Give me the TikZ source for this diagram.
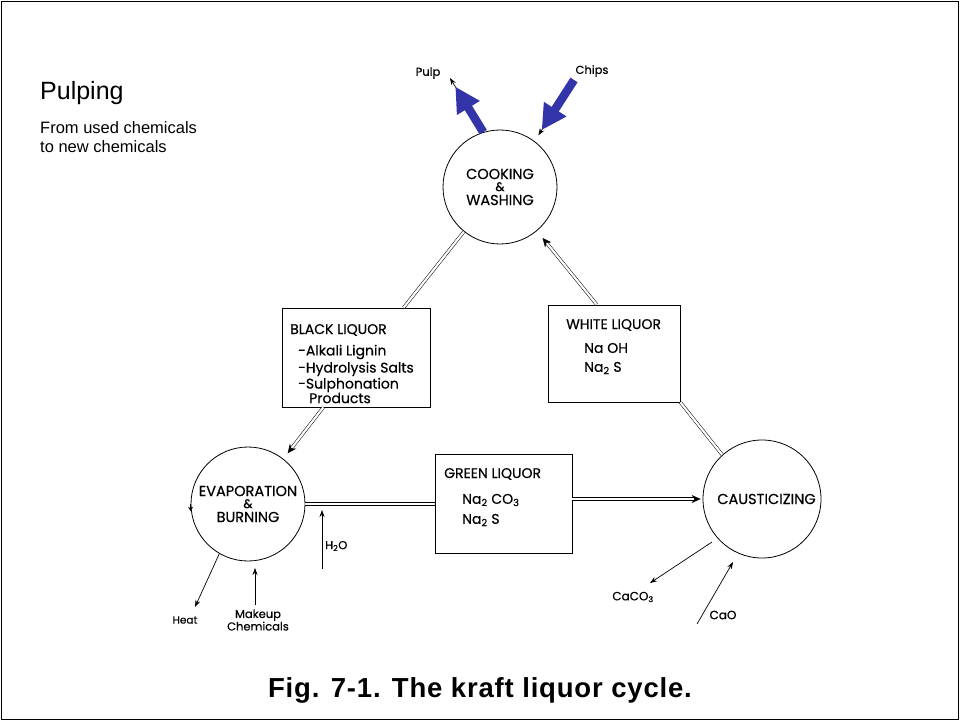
\documentclass[tikz,border=0pt]{standalone}
\usepackage{fontspec}
\setmainfont{Liberation Sans}
\newfontfamily\geo[FakeBold=0.5]{Poppins}
\usetikzlibrary{arrows.meta,calc}
\definecolor{arrowblue}{RGB}{51,51,170}
\begin{document}
\begin{tikzpicture}[x=1pt,y=-1pt,
  proc/.style={circle,draw,line width=0.8pt,minimum size=114pt,inner sep=0pt,align=center,font=\geo\fontsize{14.5}{15}\selectfont},
  liq/.style={draw,line width=0.8pt,inner sep=0pt},
  lbl/.style={inner sep=0pt,anchor=west,font=\geo\fontsize{14}{15}\selectfont},
  small/.style={inner sep=0pt,font=\geo\fontsize{11.5}{12}\selectfont,align=center},
  dbl/.style={double,double distance=2.2pt,line width=0.5pt},
  dblarrow/.style={dbl,-{Stealth[length=9pt,width=8pt]}},
  thinarrow/.style={line width=0.7pt,-{Stealth[length=7pt,width=5pt]}},
  bigblue/.style={arrowblue,line width=8.5pt,-{Triangle[length=25pt,width=25pt]}},
]
\useasboundingbox (0,0) rectangle (960,721);
\draw[line width=1.2pt] (1.5,1.5) rectangle (958.5,719.5);

% titles
\node[anchor=west,inner sep=0pt,font=\fontsize{25}{28}\selectfont] (title) at (40,93) {Pulping};
\node[anchor=north west,inner sep=0pt,align=left,font=\fontsize{16.5}{19.5}\selectfont] (sub) at (40,121) {From used chemicals\\to new chemicals};
\node[inner sep=0pt,font=\bfseries\fontsize{27.5}{32}\selectfont\addfontfeatures{LetterSpace=3}] (caption) at (480,690) {Fig. 7-1. The kraft liquor cycle.};

% process circles
\node[proc] (cook) at (500,187) {COOKING\\[-3pt]{\fontsize{12.5}{12}\selectfont\&}\\[-1pt]WASHING};
\node[proc] (evap) at (248,504) {EVAPORATION\\[-3pt]{\fontsize{12.5}{12}\selectfont\&}\\[-1pt]BURNING};
\node[proc,minimum size=118pt] (caust) at (762,499) {\hspace*{9pt}CAUSTICIZING};

% liquor boxes
\node[liq,minimum width=148pt,minimum height=99pt] (black) at (356,357.5) {};
\node[liq,minimum width=132pt,minimum height=97pt] (white) at (614,353.5) {};
\node[liq,minimum width=137pt,minimum height=99pt] (green) at (503.5,503.5) {};

\node[lbl] (bl0) at (290,330) {BLACK LIQUOR};
\node[lbl] (bl1) at (298,352) {-Alkali Lignin};
\node[lbl] (bl2) at (298,369) {-Hydrolysis Salts};
\node[lbl] (bl3) at (298,385) {-Sulphonation};
\node[lbl] (bl4) at (309,398) {Products};

\node[lbl] (wl0) at (566,325) {WHITE LIQUOR};
\node[lbl] (wl1) at (584,348) {Na OH};
\node[lbl] (wl2) at (584,368) {Na\textsubscript{2} S};

\node[lbl] (gl0) at (444,474) {GREEN LIQUOR};
\node[lbl] (gl1) at (462,500) {Na\textsubscript{2} CO\textsubscript{3}};
\node[lbl] (gl2) at (462,520) {Na\textsubscript{2} S};

% double-line liquor flows
\draw[dbl] (cook.231) -- ($(black.north west)!0.82!(black.north east)$);
\draw[dblarrow,shorten >=9pt] ($(white.north west)!0.37!(white.north east)$) -- (cook.-50);
\draw[dblarrow,shorten >=7pt] ($(black.south west)!0.28!(black.south east)$) -- (evap.52);
\draw[dbl] (evap.east) -- (evap.east -| green.west);
\draw[dblarrow,shorten >=2pt] (green.east |- caust.west) -- (caust.west);
\draw[dbl] (caust.132) -- (white.south east);

% pulp and chips
\node[small] (pulp) at (428,73) {Pulp};
\node[small] (chips) at (592,71) {Chips};
\coordinate (pulptip) at (450,78);
\coordinate (chipsstart) at (574,80);
\draw[thinarrow] (cook.107) -- (pulptip);
\draw[bigblue] (cook.107) -- ($(cook.107)!0.84!(pulptip)$);
\draw[thinarrow,shorten >=7pt] (chipsstart) -- (cook.53);
\draw[bigblue] (chipsstart) -- ($(chipsstart)!0.82!(cook.53)$);

% evaporation side streams
\node[small,font=\geo\fontsize{10.5}{12}\selectfont] (heat) at (185,620) {Heat};
\node[small,font=\geo\fontsize{11.5}{12.5}\selectfont] (makeup) at (258,620) {Makeup\\Chemicals};
\node[small,anchor=west,font=\geo\fontsize{11.5}{12}\selectfont] (water) at (325,546) {H\textsubscript{2}O};
\coordinate (heattip) at (195,607);
\coordinate (makeupstart) at (255,605);
\coordinate (makeuptip) at (255,568);
\coordinate (waterstart) at (322,569);
\coordinate (watertip) at (322,510);
\draw[thinarrow] (evap.240) -- (heattip);
\draw[thinarrow] (makeupstart) -- (makeuptip);
\draw[thinarrow] (waterstart) -- (watertip);
\draw[line width=0.6pt,-{Stealth[length=4pt,width=5pt]}] (evap.west) -- ++(0,7);

% causticizing side streams
\node[small,font=\geo\fontsize{12}{13}\selectfont] (caco) at (633,597) {CaCO\textsubscript{3}};
\node[small,font=\geo\fontsize{12}{13}\selectfont] (cao) at (723,615) {CaO};
\coordinate (cacostart) at (712,542);
\coordinate (cacotip) at (650,583);
\coordinate (caostart) at (697,624);
\coordinate (caotip) at (733,562);
\draw[thinarrow] (cacostart) -- (cacotip);
\draw[thinarrow] (caostart) -- (caotip);
\end{tikzpicture}
\end{document}
